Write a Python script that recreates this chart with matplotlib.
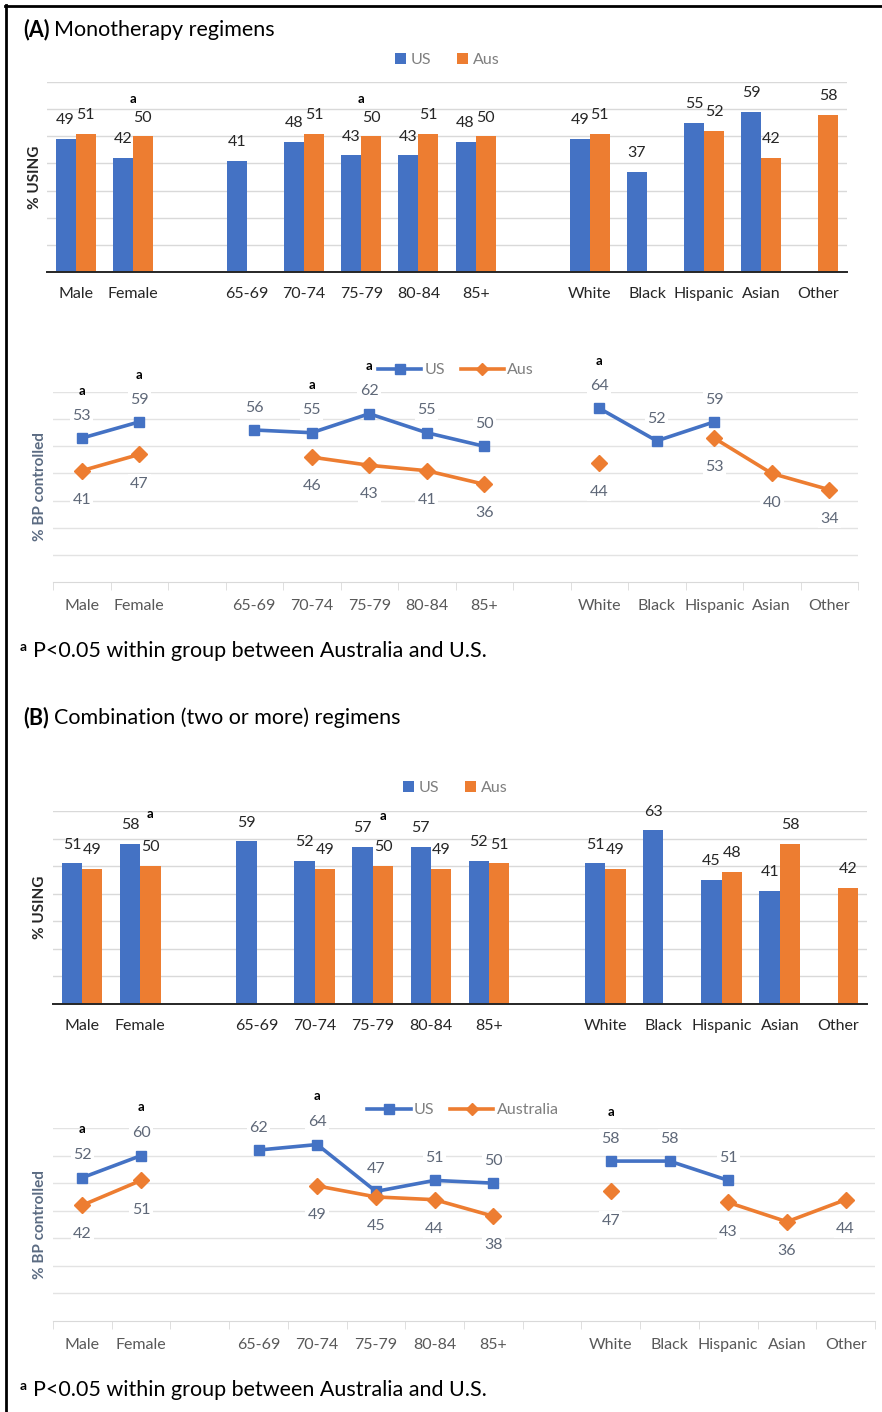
import numpy as np
import matplotlib.pyplot as plt
from matplotlib.lines import Line2D

plt.rcParams['font.family'] = ['Lato', 'DejaVu Sans']

W, H = 882, 1412
nan = np.nan

cats = ['Male', 'Female', '', '65-69', '70-74', '75-79', '80-84', '85+', '',
        'White', 'Black', 'Hispanic', 'Asian', 'Other']

# (A) monotherapy
mono_use_us = [49, 42, nan, 41, 48, 43, 43, 48, nan, 49, 37, 55, 59, nan]
mono_use_aus = [51, 50, nan, nan, 51, 50, 51, 50, nan, 51, nan, 52, 42, 58]
mono_bp_us = [53, 59, nan, 56, 55, 62, 55, 50, nan, 64, 52, 59, nan, nan]
mono_bp_aus = [41, 47, nan, nan, 46, 43, 41, 36, nan, 44, nan, 53, 40, 34]
mono_use_sig = ['Female', '75-79']
mono_bp_sig = ['Male', 'Female', '70-74', '75-79', 'White']

# (B) combination
combo_use_us = [51, 58, nan, 59, 52, 57, 57, 52, nan, 51, 63, 45, 41, nan]
combo_use_aus = [49, 50, nan, nan, 49, 50, 49, 51, nan, 49, nan, 48, 58, 42]
combo_bp_us = [52, 60, nan, 62, 64, 47, 51, 50, nan, 58, 58, 51, nan, nan]
combo_bp_aus = [42, 51, nan, nan, 49, 45, 44, 38, nan, 47, nan, 43, 36, 44]
combo_use_sig = ['Female', '75-79']
combo_bp_sig = ['Male', 'Female', '70-74', 'White']

BLUE = '#4472C4'
ORANGE = '#ED7D31'
GRID = '#d9d9d9'

fig = plt.figure(figsize=(W / 100, H / 100), dpi=100)
renderer = fig.canvas.get_renderer()


def fx(x):
    return x / W


def fy(y):
    return 1 - y / H


def rect(x0, y0, x1, y1):
    return [fx(x0), fy(y1), (x1 - x0) / W, (y1 - y0) / H]


def bar_panel(r, us, aus, sig, sig_dx, sig_off, leg_xy, ylab_x):
    ax = fig.add_axes(r)
    x = np.arange(len(cats))
    w = 0.35
    us = np.array(us, float)
    aus = np.array(aus, float)
    b1 = ax.bar(x - w / 2, us, w, color=BLUE, zorder=2)
    b2 = ax.bar(x + w / 2, aus, w, color=ORANGE, zorder=2)
    for xs, vals in ((x - w / 2, us), (x + w / 2, aus)):
        for xi, v in zip(xs, vals):
            if not np.isnan(v):
                ax.annotate(f'{v:.0f}', (xi, v), xytext=(0, 13.5), textcoords='offset points',
                            ha='center', va='center', fontsize=11.5, color='#262626', zorder=5)
    for c in sig:
        i = cats.index(c)
        top = np.nanmax([us[i], aus[i]])
        ax.annotate('a', (i + sig_dx, top), xytext=(0, sig_off), textcoords='offset points',
                    ha='center', va='center', fontsize=9.5, fontweight='bold', color='black')
    ax.set_xlim(-0.5, len(cats) - 0.5)
    ax.set_ylim(0, 70)
    ax.set_yticks(np.arange(10, 71, 10))
    ax.yaxis.grid(True, color=GRID, lw=1)
    ax.set_axisbelow(True)
    for s in ['left', 'right', 'top']:
        ax.spines[s].set_visible(False)
    ax.spines['bottom'].set_color('#262626')
    ax.spines['bottom'].set_linewidth(1.4)
    ticks = [i for i, c in enumerate(cats) if c]
    ax.set_xticks(ticks, [cats[i] for i in ticks])
    ax.tick_params(axis='x', length=0, pad=11, labelsize=11.5, labelcolor='#262626')
    ax.tick_params(axis='y', left=False, labelleft=False)
    fig.legend([b1, b2], ['US', 'Aus'], loc='center', bbox_to_anchor=(fx(leg_xy[0]), fy(leg_xy[1])),
               ncol=2, frameon=False, fontsize=11.5, handlelength=0.7, handleheight=0.7,
               handletextpad=0.3, columnspacing=1.6, labelcolor='#7f7f7f')
    cy = r[1] + r[3] / 2
    fig.text(fx(ylab_x), cy, '% USING', rotation=90, ha='center', va='center',
             fontsize=11, fontweight='bold', color='#262626')
    return ax


def line_panel(r, us, aus, aus_name, sig, sig_off, leg_xy, ylab_x):
    ax = fig.add_axes(r)
    x = np.arange(len(cats))
    us = np.array(us, float)
    aus = np.array(aus, float)
    ax.plot(x, us, color=BLUE, lw=2.6, marker='s', ms=7.5, zorder=3)
    ax.plot(x, aus, color=ORANGE, lw=2.6, marker='D', ms=8, zorder=3)
    lab = dict(ha='center', va='center', fontsize=11.5, color='#5f6878', zorder=4,
               textcoords='offset points',
               bbox=dict(boxstyle='square,pad=0.15', fc='white', ec='none'))
    for xi, v in zip(x, us):
        if not np.isnan(v):
            ax.annotate(f'{v:.0f}', (xi, v), xytext=(0, 16), **lab)
    for xi, v in zip(x, aus):
        if not np.isnan(v):
            ax.annotate(f'{v:.0f}', (xi, v), xytext=(0, -21), **lab)
    for c in sig:
        i = cats.index(c)
        ax.annotate('a', (i, us[i]), xytext=(0, sig_off), textcoords='offset points',
                    ha='center', va='center', fontsize=9.5, fontweight='bold', color='black')
    ax.set_xlim(-0.5, len(cats) - 0.5)
    ax.set_ylim(0, 70)
    ax.set_yticks(np.arange(10, 71, 10))
    ax.yaxis.grid(True, color='#e3e3e3', lw=1)
    ax.set_axisbelow(True)
    for s in ['left', 'right', 'top']:
        ax.spines[s].set_visible(False)
    ax.spines['bottom'].set_color(GRID)
    ticks = [i for i, c in enumerate(cats) if c]
    ax.set_xticks(ticks, [cats[i] for i in ticks])
    ax.set_xticks(np.arange(-0.5, len(cats), 1), minor=True)
    ax.tick_params(axis='x', which='major', length=0, pad=12, labelsize=11.5, labelcolor='#595959')
    ax.tick_params(axis='x', which='minor', length=6, color=GRID)
    ax.tick_params(axis='y', left=False, labelleft=False)
    h1 = Line2D([], [], color=BLUE, lw=2.6, marker='s', ms=7.5)
    h2 = Line2D([], [], color=ORANGE, lw=2.6, marker='D', ms=6)
    fig.legend([h1, h2], ['US', aus_name], loc='center', bbox_to_anchor=(fx(leg_xy[0]), fy(leg_xy[1])),
               ncol=2, frameon=False, fontsize=11.5, handlelength=2.7, handletextpad=0.2,
               columnspacing=1.0, labelcolor='#7f7f7f')
    cy = r[1] + r[3] / 2
    fig.text(fx(ylab_x), cy, '% BP controlled', rotation=90, ha='center', va='center',
             fontsize=11, fontweight='bold', color='#5b6b82')
    return ax


def title(y, tag, text):
    t = fig.text(fx(23), fy(y), tag, fontsize=15.5, fontweight='bold', va='baseline', ha='left')
    bb = t.get_window_extent(renderer)
    fig.text(bb.x1 / W + fx(5), fy(y), text, fontsize=15.5, va='baseline', ha='left')


def footnote(y):
    fig.text(fx(20), fy(y - 6), 'a', fontsize=10, fontweight='bold', va='baseline', ha='left')
    fig.text(fx(33), fy(y), 'P<0.05 within group between Australia and U.S.', fontsize=15.5,
             va='baseline', ha='left')


# frame
fig.add_artist(Line2D([fx(5), fx(W)], [fy(6), fy(6)], color='black', lw=2))
fig.add_artist(Line2D([fx(6), fx(6)], [fy(5), fy(H)], color='black', lw=2))

title(36, '(A)', 'Monotherapy regimens')
bar_panel(rect(47, 82, 847, 272), mono_use_us, mono_use_aus, mono_use_sig, 0, 27,
          (447, 60), 35)
line_panel(rect(53, 392, 858, 582), mono_bp_us, mono_bp_aus, 'Aus', mono_bp_sig, 34,
           (456, 370), 40)
footnote(657)

title(724, '(B)', 'Combination (two or more) regimens')
bar_panel(rect(53, 811, 867, 1004), combo_use_us, combo_use_aus, combo_use_sig, 0.175, 22,
          (455, 788), 40)
line_panel(rect(53, 1128, 875, 1321), combo_bp_us, combo_bp_aus, 'Australia', combo_bp_sig, 35,
           (463, 1110), 40)
footnote(1396)

fig.savefig('out.png', dpi=100)
